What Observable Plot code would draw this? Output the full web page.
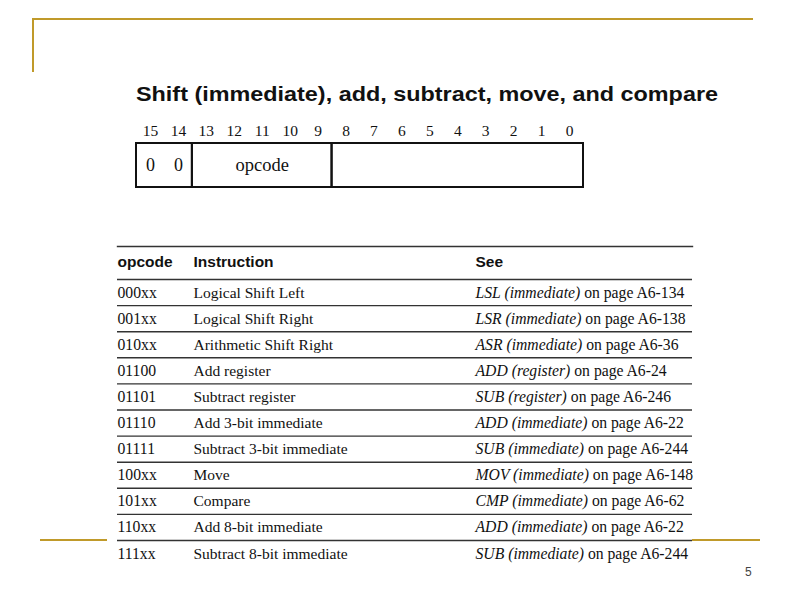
<!DOCTYPE html>
<html><head><meta charset="utf-8">
<script src="https://cdn.jsdelivr.net/npm/d3@7"></script>
<script src="https://cdn.jsdelivr.net/npm/@observablehq/plot@0.6"></script>
<style>
html,body{margin:0;padding:0;background:#fff;}
#slide{position:relative;width:800px;height:600px;overflow:hidden;background:#fff;}
.gold{position:absolute;background:#C09A2A;}
#title{position:absolute;left:136px;top:83px;font-family:"Liberation Sans",Arial,sans-serif;font-weight:bold;font-size:19.5px;white-space:nowrap;transform-origin:0 0;color:#111;}
#bits{position:absolute;left:0;top:110px;}
#table{position:absolute;left:100px;top:236px;}
#page{position:absolute;left:745px;top:565px;font-family:"Liberation Sans",Arial,sans-serif;font-size:12px;color:#444;}
svg{overflow:visible;}
</style></head>
<body><div id="slide">
<div class="gold" style="left:32px;top:18px;width:721px;height:2px"></div>
<div class="gold" style="left:32px;top:18px;width:2px;height:54px"></div>
<div class="gold" style="left:40px;top:539px;width:67px;height:2px"></div>
<div class="gold" style="left:692px;top:539px;width:68px;height:2px"></div>
<div id="title">Shift (immediate), add, subtract, move, and compare</div>
<div id="bits"></div>
<div id="table"></div>
<div id="page">5</div>
</div>
<script>
// ---- data ----
const bits = [15, 14, 13, 12, 11, 10, 9, 8, 7, 6, 5, 4, 3, 2, 1, 0];
const fieldHi = [15, 13, 8];
const fieldLo = [14, 9, 0];
const fieldLabels = ["", "opcode", ""];
const fixedBitPos = [15, 14];
const fixedBitVal = ["0", "0"];

const headers = ["opcode", "Instruction", "See"];
const opcodes = ["000xx", "001xx", "010xx", "01100", "01101", "01110", "01111", "100xx", "101xx", "110xx", "111xx"];
const instructions = ["Logical Shift Left", "Logical Shift Right", "Arithmetic Shift Right", "Add register", "Subtract register", "Add 3-bit immediate", "Subtract 3-bit immediate", "Move", "Compare", "Add 8-bit immediate", "Subtract 8-bit immediate"];
const seeRefs = ["LSL (immediate)", "LSR (immediate)", "ASR (immediate)", "ADD (register)", "SUB (register)", "ADD (immediate)", "SUB (immediate)", "MOV (immediate)", "CMP (immediate)", "ADD (immediate)", "SUB (immediate)"];
const seePages = ["A6-134", "A6-138", "A6-36", "A6-24", "A6-246", "A6-22", "A6-244", "A6-148", "A6-62", "A6-22", "A6-244"];

// ---- layout constants ----
const serif = "'Liberation Serif', 'Times New Roman', serif";
const sans = "'Liberation Sans', Arial, sans-serif";
const colDx = [0, 76, 358];

// title stretch
const titleEl = document.getElementById("title");
const natural = titleEl.getBoundingClientRect().width;
titleEl.style.transform = `scaleX(${582 / natural})`;

// ---- bit field ----
const fields = fieldHi.map((hi, i) => ({hi, lo: fieldLo[i], label: fieldLabels[i]}));
const fixed = fixedBitPos.map((b, i) => ({bit: b, value: fixedBitVal[i]}));

const bitPlot = Plot.plot({
  width: 800, height: 90,
  marginLeft: 136, marginRight: 217, marginTop: 33, marginBottom: 13,
  x: {domain: [d3.max(bits) + 0.5, d3.min(bits) - 0.5], axis: null, label: null},
  y: {domain: [0, 1], reverse: true, axis: null},
  style: {fontFamily: serif, color: "#111", background: "transparent"},
  marks: [
    Plot.axisX(bits, {anchor: "top", label: null, tickSize: 0, tickPadding: 8, fontSize: 15.5, fontFamily: serif, fill: "#111", tickFormat: d => String(d)}),
    Plot.rect(fields, {x1: d => d.hi + 0.5, x2: d => d.lo - 0.5, y1: () => 0, y2: () => 1, fill: "none", stroke: "#111", strokeWidth: 2}),
    Plot.text(fixed, {x: "bit", y: () => 0.5, text: "value", fontSize: 18, fontFamily: serif, fill: "#111"}),
    Plot.text(fields.filter(d => d.label), {x: d => (d.hi + d.lo) / 2, y: () => 0.5, text: "label", fontSize: 18.5, fontFamily: serif, fill: "#111"})
  ]
});
document.getElementById("bits").append(bitPlot);

// ---- table ----
const rows = opcodes.map((op, i) => ({i, op, instr: instructions[i], ref: seeRefs[i], page: seePages[i]}));
const ruleStyle = {stroke: "#333", strokeWidth: 1.4};

const tablePlot = Plot.plot({
  width: 620, height: 332,
  marginLeft: 17, marginRight: 28, marginTop: 10, marginBottom: 2,
  x: {domain: [0, 1], axis: null},
  y: {domain: [0, rows.length], range: [43, 330.1], axis: null},
  style: {background: "transparent", color: "#111"},
  marks: [
    Plot.frame({anchor: "top", ...ruleStyle}),
    Plot.ruleY(rows, {y: "i", ...ruleStyle}),
    ...headers.map((h, j) => Plot.text([h], {frameAnchor: "top-left", dy: 16, dx: colDx[j], text: d => d, textAnchor: "start", lineAnchor: "middle", fontFamily: sans, fontWeight: "bold", fontSize: 15.5, fill: "#111"})),
    Plot.text(rows, {y: d => d.i + 0.5, frameAnchor: "left", dx: colDx[0], text: "op", textAnchor: "start", fontFamily: serif, fontSize: 15.7, fill: "#111"}),
    Plot.text(rows, {y: d => d.i + 0.5, frameAnchor: "left", dx: colDx[1], text: "instr", textAnchor: "start", fontFamily: serif, fontSize: 15.5, fill: "#111"}),
    Plot.text(rows, {y: d => d.i + 0.5, frameAnchor: "left", dx: colDx[2], text: "ref", textAnchor: "start", fontFamily: serif, fontSize: 15.7, fill: "#111", ariaDescription: "see-column"})
  ]
});
// mix italic reference with upright page text
const ns = "http://www.w3.org/2000/svg";
const seeGroup = tablePlot.querySelector('[aria-description="see-column"]');
if (seeGroup) {
  seeGroup.querySelectorAll("text").forEach((t, k) => {
    const r = rows[k];
    t.textContent = "";
    t.setAttribute("style", "white-space:pre");
    const a = document.createElementNS(ns, "tspan");
    a.setAttribute("font-style", "italic");
    a.textContent = r.ref;
    const b = document.createElementNS(ns, "tspan");
    b.setAttribute("font-style", "normal");
    b.textContent = " on page " + r.page;
    t.append(a, b);
  });
}
document.getElementById("table").append(tablePlot);
</script>
</body></html>
